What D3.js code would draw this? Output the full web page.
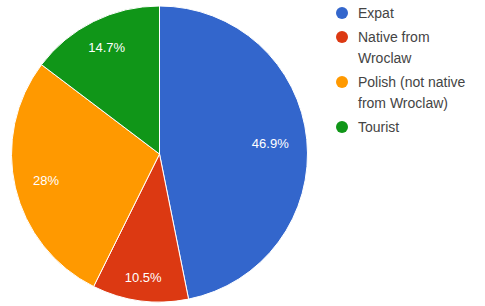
<!DOCTYPE html>
<html lang="en">
<head>
<meta charset="utf-8">
<title>Visitors pie</title>
<script src="https://cdn.jsdelivr.net/npm/d3@7/dist/d3.min.js"></script>
<style>
  body { margin: 0; background: #fff; }
  text { font-family: Arial, "Liberation Sans", sans-serif; }
</style>
</head>
<body>
<script>
const categories = ["Expat", "Native from Wroclaw", "Polish (not native from Wroclaw)", "Tourist"];
const values = [46.9, 10.5, 28, 14.7];
const sliceLabels = ["46.9%", "10.5%", "28%", "14.7%"];
const legendLines = [["Expat"], ["Native from", "Wroclaw"], ["Polish (not native", "from Wroclaw)"], ["Tourist"]];
const colors = ["#3366cc", "#dc3912", "#ff9900", "#109618"];

const w = 485, h = 306;
const cx = 159.5, cy = 154, r = 148;

const svg = d3.select("body").append("svg").attr("width", w).attr("height", h);

const pie = d3.pie().sort(null).value(d => d);
const arcs = pie(values);
const arc = d3.arc().innerRadius(0).outerRadius(r);

const g = svg.append("g").attr("transform", `translate(${cx},${cy})`);

g.selectAll("path")
  .data(arcs)
  .enter()
  .append("path")
  .attr("d", arc)
  .attr("fill", (d, i) => colors[i])
  .attr("stroke", "#fff")
  .attr("stroke-width", 1);

// labels: push the text box out along the bisector until it nearly touches the rim
g.selectAll("text")
  .data(arcs)
  .enter()
  .append("text")
  .attr("text-anchor", "middle")
  .attr("dy", "0.35em")
  .attr("fill", "#fff")
  .style("font-size", "13px")
  .text((d, i) => sliceLabels[i])
  .attr("transform", function(d) {
    const b = this.getBBox();
    const a = (d.startAngle + d.endAngle) / 2;
    const dx = Math.sin(a), dy = -Math.cos(a);
    const ext = Math.abs(dx) * b.width / 2 + Math.abs(dy) * b.height / 2 * 0.5;
    const dist = r * 0.88 - ext;
    return `translate(${dx * dist},${dy * dist})`;
  });

// legend
const legend = svg.append("g").attr("transform", "translate(342,0)");
let y = 13;
legendLines.forEach((lines, i) => {
  legend.append("circle")
    .attr("cx", 0).attr("cy", y)
    .attr("r", 6)
    .attr("fill", colors[i]);
  const t = legend.append("text")
    .attr("x", 16).attr("y", y)
    .attr("fill", "#444")
    .style("font-size", "14px");
  lines.forEach((line, j) => {
    t.append("tspan").attr("x", 16).attr("dy", j === 0 ? "0.35em" : "21px").text(line);
  });
  y += lines.length * 21 + 3;
});
</script>
</body>
</html>
